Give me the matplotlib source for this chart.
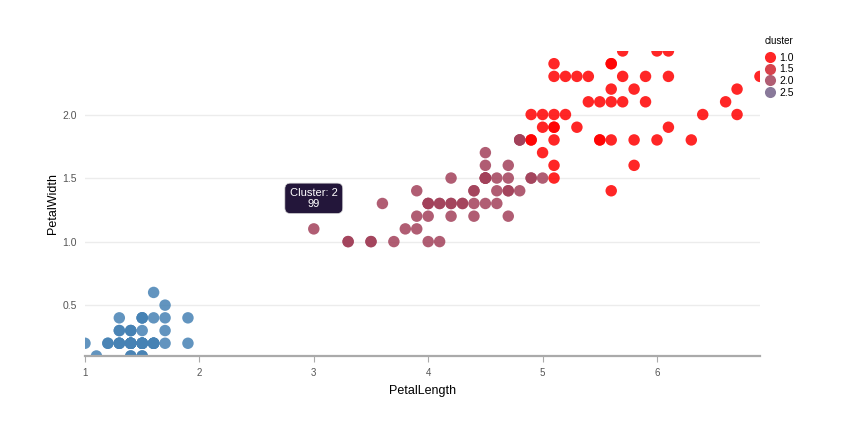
import matplotlib
matplotlib.use("Agg")
import matplotlib.pyplot as plt
from matplotlib.colors import LinearSegmentedColormap
from matplotlib.lines import Line2D

plt.rcParams['font.family'] = ['Liberation Sans', 'DejaVu Sans']

# iris petal measurements, rows 1..150
petal_length = [
    1.4, 1.4, 1.3, 1.5, 1.4, 1.7, 1.4, 1.5, 1.4, 1.5, 1.5, 1.6, 1.4, 1.1, 1.2, 1.5, 1.3, 1.4, 1.7, 1.5,
    1.7, 1.5, 1.0, 1.7, 1.9, 1.6, 1.6, 1.5, 1.4, 1.6, 1.6, 1.5, 1.5, 1.4, 1.5, 1.2, 1.3, 1.4, 1.3, 1.5,
    1.3, 1.3, 1.3, 1.6, 1.9, 1.4, 1.6, 1.4, 1.5, 1.4,
    4.7, 4.5, 4.9, 4.0, 4.6, 4.5, 4.7, 3.3, 4.6, 3.9, 3.5, 4.2, 4.0, 4.7, 3.6, 4.4, 4.5, 4.1, 4.5, 3.9,
    4.8, 4.0, 4.9, 4.7, 4.3, 4.4, 4.8, 5.0, 4.5, 3.5, 3.8, 3.7, 3.9, 5.1, 4.5, 4.5, 4.7, 4.4, 4.1, 4.0,
    4.4, 4.6, 4.0, 3.3, 4.2, 4.2, 4.2, 4.3, 3.0, 4.1,
    6.0, 5.1, 5.9, 5.6, 5.8, 6.6, 4.5, 6.3, 5.8, 6.1, 5.1, 5.3, 5.5, 5.0, 5.1, 5.3, 5.5, 6.7, 6.9, 5.0,
    5.7, 4.9, 6.7, 4.9, 5.7, 6.0, 4.8, 4.9, 5.6, 5.8, 6.1, 6.4, 5.6, 5.1, 5.6, 6.1, 5.6, 5.5, 4.8, 5.4,
    5.6, 5.1, 5.1, 5.9, 5.7, 5.2, 5.0, 5.2, 5.4, 5.1,
]
petal_width = [
    0.2, 0.2, 0.2, 0.2, 0.2, 0.4, 0.3, 0.2, 0.2, 0.1, 0.2, 0.2, 0.1, 0.1, 0.2, 0.4, 0.4, 0.3, 0.3, 0.3,
    0.2, 0.4, 0.2, 0.5, 0.2, 0.2, 0.4, 0.2, 0.2, 0.2, 0.2, 0.4, 0.1, 0.2, 0.2, 0.2, 0.2, 0.1, 0.2, 0.2,
    0.3, 0.3, 0.2, 0.6, 0.4, 0.3, 0.2, 0.2, 0.2, 0.2,
    1.4, 1.5, 1.5, 1.3, 1.5, 1.3, 1.6, 1.0, 1.3, 1.4, 1.0, 1.5, 1.0, 1.4, 1.3, 1.4, 1.5, 1.0, 1.5, 1.1,
    1.8, 1.3, 1.5, 1.2, 1.3, 1.4, 1.4, 1.7, 1.5, 1.0, 1.1, 1.0, 1.2, 1.6, 1.5, 1.6, 1.5, 1.3, 1.3, 1.3,
    1.2, 1.4, 1.2, 1.0, 1.3, 1.2, 1.3, 1.3, 1.1, 1.3,
    2.5, 1.9, 2.1, 1.8, 2.2, 2.1, 1.7, 1.8, 1.8, 2.5, 2.0, 1.9, 2.1, 2.0, 2.4, 2.3, 1.8, 2.2, 2.3, 1.5,
    2.3, 2.0, 2.0, 1.8, 2.1, 1.8, 1.8, 1.8, 2.1, 1.6, 1.9, 2.0, 2.2, 1.5, 1.4, 2.3, 2.4, 1.8, 1.8, 2.1,
    2.4, 2.3, 1.9, 2.3, 2.5, 2.3, 1.9, 2.0, 2.3, 1.8,
]
cluster = [
    3, 3, 3, 3, 3, 3, 3, 3, 3, 3, 3, 3, 3, 3, 3, 3, 3, 3, 3, 3,
    3, 3, 3, 3, 3, 3, 3, 3, 3, 3, 3, 3, 3, 3, 3, 3, 3, 3, 3, 3,
    3, 3, 3, 3, 3, 3, 3, 3, 3, 3,
    2, 2, 2, 2, 2, 2, 2, 2, 2, 2, 2, 2, 2, 2, 2, 2, 2, 2, 2, 2,
    2, 2, 2, 2, 2, 2, 2, 1, 2, 2, 2, 2, 2, 1, 2, 2, 2, 2, 2, 2,
    2, 2, 2, 2, 2, 2, 2, 2, 2, 2,
    1, 1, 1, 1, 1, 1, 2, 1, 1, 1, 1, 1, 1, 1, 1, 1, 1, 1, 1, 2,
    1, 1, 1, 1, 1, 1, 2, 1, 1, 1, 1, 1, 1, 1, 1, 1, 1, 1, 2, 1,
    1, 1, 1, 1, 1, 1, 1, 1, 1, 1,
]
legend_values = [1.0, 1.5, 2.0, 2.5]

cmap = LinearSegmentedColormap.from_list('clu', ['#ff0000', '#4682b4'])
norm = plt.Normalize(1, 3)

fig = plt.figure(figsize=(8.62, 4.32), dpi=100)
ax = fig.add_axes([0.0986, 0.176, 0.783, 0.706])

ax.scatter(petal_length, petal_width, c=cluster, cmap=cmap, norm=norm,
           s=68, alpha=0.85, linewidths=0, zorder=3)

ax.set_xlim(1, 6.9)
ax.set_ylim(0.1, 2.5)
ax.set_xticks([1, 2, 3, 4, 5, 6])
ax.set_yticks([0.5, 1.0, 1.5, 2.0])
ax.yaxis.grid(True, color='#ececec', lw=1)
ax.set_axisbelow(True)
for s in ['top', 'right', 'left']:
    ax.spines[s].set_visible(False)
ax.spines['bottom'].set_color('#aaaaaa')
ax.spines['bottom'].set_linewidth(1.6)
ax.spines['bottom'].set_zorder(4)
ax.tick_params(axis='x', length=4, color='#aaaaaa', labelsize=7, labelcolor='#555555', pad=5)
ax.tick_params(axis='y', length=0, labelsize=7.5, labelcolor='#555555', pad=6)
ax.set_xlabel('PetalLength', fontsize=9, labelpad=5)
ax.set_ylabel('PetalWidth', fontsize=9, labelpad=2)

# hover tooltip
ax.annotate('Cluster: 2\n99', xy=(petal_length[98], petal_width[98]), xytext=(0, 22),
            textcoords='offset points', ha='center', va='center', fontsize=8,
            color='white', linespacing=1.05, zorder=6,
            bbox=dict(boxstyle='round,pad=0.45,rounding_size=0.5', fc='#23163a', ec='#d8d8d8', lw=0.5))

# legend
fig.text(0.8875, 0.905, 'cluster', fontsize=7, va='center', ha='left')
handles = [Line2D([], [], marker='o', ls='', markersize=8, markeredgewidth=0,
                  color=cmap(norm(v)), alpha=0.85) for v in legend_values]
fig.legend(handles, ['%.1f' % v for v in legend_values],
           loc='upper left', bbox_to_anchor=(0.88, 0.89), frameon=False,
           fontsize=7.5, handletextpad=0.3, labelspacing=0.16,
           borderpad=0, handlelength=1.2)

fig.savefig('out.png', dpi=100)
